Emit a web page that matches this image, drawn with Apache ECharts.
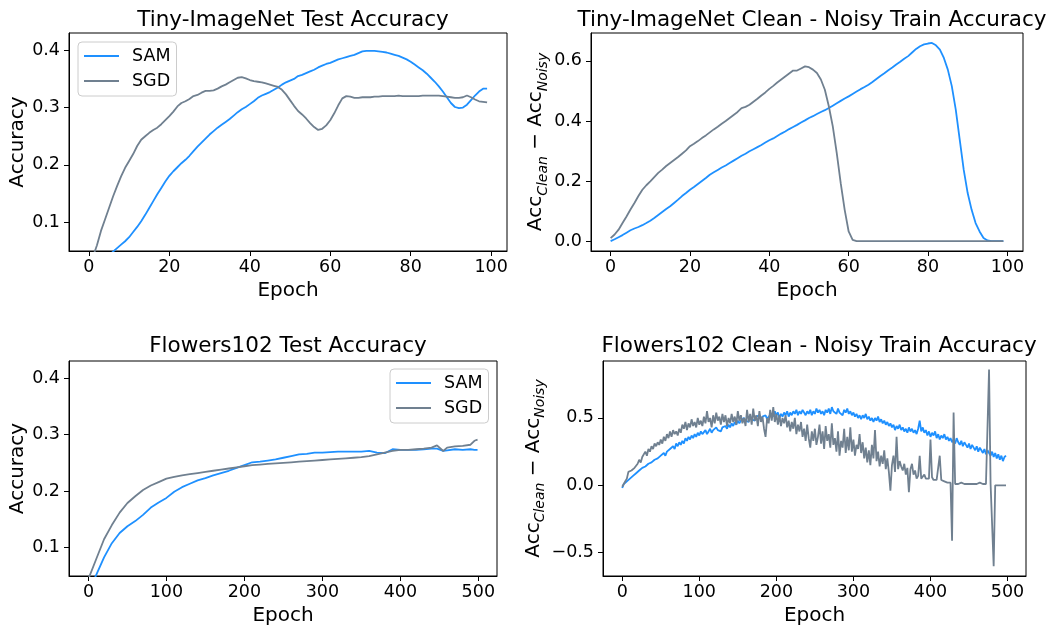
<!DOCTYPE html>
<html><head><meta charset="utf-8">
<script src="https://cdn.jsdelivr.net/npm/echarts@6/dist/echarts.min.js"></script>
<style>html,body{margin:0;padding:0;background:#fff}#c{width:1047px;height:627px}</style>
</head><body><div id="c"></div>
<script>
// ---------- data ----------
const tinyEpochs = Array.from({length: 100}, (_, i) => i);
const tinyTestSAM = [0.005,0.012,0.02,0.028,0.035,0.042,0.049,0.055,0.061,0.067,
0.074,0.083,0.092,0.102,0.113,0.125,0.137,0.149,0.160,0.171,
0.181,0.189,0.196,0.203,0.209,0.216,0.224,0.232,0.239,0.246,
0.253,0.259,0.265,0.27,0.275,0.28,0.286,0.292,0.297,0.301,
0.306,0.311,0.317,0.321,0.324,0.327,0.331,0.335,0.34,0.344,
0.347,0.35,0.355,0.357,0.36,0.363,0.366,0.37,0.373,0.376,
0.378,0.381,0.384,0.386,0.388,0.39,0.392,0.395,0.398,0.399,
0.399,0.399,0.398,0.397,0.396,0.394,0.392,0.39,0.387,0.384,
0.38,0.375,0.37,0.365,0.359,0.352,0.345,0.337,0.328,0.318,
0.308,0.301,0.299,0.3,0.305,0.313,0.321,0.328,0.333,0.333];
const tinyTestSGD = [0.02,0.04,0.06,0.085,0.105,0.125,0.145,0.163,0.18,0.195,
0.207,0.219,0.233,0.244,0.25,0.256,0.261,0.265,0.271,0.278,
0.285,0.293,0.302,0.308,0.311,0.315,0.32,0.322,0.326,0.329,
0.329,0.33,0.333,0.337,0.34,0.344,0.348,0.352,0.353,0.351,
0.348,0.346,0.345,0.344,0.342,0.34,0.338,0.336,0.331,0.323,
0.313,0.303,0.294,0.288,0.281,0.273,0.266,0.261,0.263,0.269,
0.278,0.29,0.304,0.316,0.32,0.319,0.317,0.317,0.318,0.318,
0.318,0.319,0.319,0.32,0.32,0.32,0.32,0.321,0.32,0.32,
0.32,0.32,0.32,0.321,0.321,0.321,0.321,0.321,0.32,0.319,
0.318,0.317,0.317,0.318,0.321,0.318,0.314,0.311,0.31,0.309];
const tinyGapSAM = [0.0,0.006,0.013,0.02,0.028,0.036,0.042,0.047,0.053,0.06,
0.068,0.077,0.087,0.097,0.107,0.116,0.127,0.138,0.15,0.16,
0.171,0.18,0.19,0.2,0.21,0.221,0.229,0.237,0.245,0.252,
0.26,0.268,0.276,0.284,0.291,0.299,0.306,0.313,0.32,0.328,
0.336,0.342,0.35,0.358,0.365,0.373,0.38,0.387,0.395,0.402,
0.41,0.416,0.423,0.43,0.436,0.443,0.451,0.459,0.467,0.475,
0.482,0.49,0.498,0.506,0.513,0.521,0.53,0.54,0.55,0.559,
0.569,0.578,0.588,0.597,0.607,0.616,0.628,0.64,0.649,0.655,
0.658,0.66,0.652,0.638,0.61,0.571,0.516,0.438,0.338,0.238,
0.16,0.104,0.06,0.032,0.01,0.002,0.0,0.0,0.0,0.0];
const tinyGapSGD = [0.01,0.022,0.038,0.06,0.082,0.105,0.127,0.15,0.171,0.186,
0.199,0.213,0.227,0.238,0.25,0.26,0.27,0.28,0.291,0.302,
0.316,0.324,0.333,0.343,0.352,0.362,0.372,0.381,0.391,0.4,
0.41,0.42,0.43,0.443,0.447,0.454,0.464,0.474,0.485,0.495,
0.507,0.517,0.528,0.538,0.548,0.558,0.568,0.568,0.575,0.582,
0.579,0.571,0.56,0.538,0.504,0.449,0.382,0.293,0.193,0.104,
0.032,0.004,0,0,0,0,0,0,0,0,
0,0,0,0,0,0,0,0,0,0,
0,0,0,0,0,0,0,0,0,0,
0,0,0,0,0,0,0,0,0,0];

const flowersTestEpochs = [0,10,20,30,40,50,60,70,80,90,100,110,120,130,140,150,160,170,180,190,
200,210,220,230,240,250,260,270,280,290,300,310,320,330,340,350,360,370,380,390,
400,410,420,430,440,447,455,460,470,480,490,495,499];
const flowersTestSAM = [0.02,0.052,0.083,0.108,0.126,0.138,0.147,0.158,0.171,0.18,0.188,0.199,0.207,0.213,0.219,0.223,0.228,0.232,0.236,0.241,
0.246,0.251,0.252,0.254,0.256,0.259,0.262,0.265,0.266,0.268,0.268,0.269,0.27,0.27,0.27,0.27,0.271,0.268,0.267,0.274,
0.273,0.273,0.273,0.274,0.275,0.275,0.271,0.272,0.274,0.273,0.274,0.273,0.273];
const flowersTestSGD = [0.045,0.08,0.115,0.14,0.162,0.179,0.191,0.202,0.21,0.216,0.222,0.225,0.228,0.23,0.232,0.234,0.236,0.238,0.24,0.242,
0.244,0.246,0.247,0.248,0.249,0.25,0.251,0.252,0.253,0.254,0.255,0.256,0.257,0.258,0.259,0.26,0.262,0.265,0.268,0.271,
0.273,0.273,0.274,0.275,0.277,0.281,0.271,0.277,0.279,0.28,0.282,0.289,0.291];

const flowersGapEpochs = Array.from({length: 250}, (_, i) => i * 2);
const flowersGapSAM = [-0.02,0.01,0.02,0.03,0.04,0.05,0.06,0.07,0.06,0.09,0.08,0.11,0.10,0.13,0.12,0.14,0.13,0.16,0.15,0.17,
0.16,0.19,0.18,0.20,0.19,0.22,0.21,0.24,0.22,0.25,0.24,0.27,0.26,0.29,0.27,0.31,0.29,0.32,0.30,0.33,
0.31,0.35,0.33,0.36,0.34,0.37,0.35,0.38,0.36,0.39,0.37,0.40,0.38,0.39,0.41,0.38,0.40,0.42,0.39,0.41,
0.40,0.43,0.41,0.42,0.40,0.43,0.42,0.44,0.42,0.45,0.43,0.46,0.44,0.47,0.45,0.48,0.46,0.48,0.47,0.50,
0.48,0.49,0.47,0.51,0.49,0.50,0.48,0.51,0.50,0.52,0.49,0.51,0.50,0.52,0.49,0.51,0.50,0.53,0.51,0.55,
0.52,0.54,0.50,0.53,0.51,0.54,0.52,0.55,0.51,0.54,0.52,0.55,0.53,0.56,0.52,0.55,0.53,0.56,0.54,0.52,
0.55,0.53,0.56,0.52,0.55,0.53,0.57,0.54,0.56,0.53,0.55,0.52,0.56,0.54,0.57,0.53,0.58,0.55,0.56,0.53,
0.57,0.54,0.55,0.52,0.56,0.54,0.57,0.53,0.55,0.52,0.54,0.51,0.53,0.50,0.52,0.49,0.52,0.50,0.53,0.49,
0.51,0.48,0.50,0.47,0.50,0.48,0.51,0.47,0.49,0.46,0.48,0.45,0.47,0.44,0.46,0.43,0.45,0.41,0.44,0.42,
0.45,0.41,0.43,0.40,0.42,0.39,0.43,0.40,0.42,0.39,0.41,0.38,0.42,0.48,0.40,0.43,0.39,0.41,0.37,0.40,
0.36,0.39,0.37,0.40,0.35,0.38,0.34,0.37,0.35,0.38,0.34,0.36,0.33,0.35,0.32,0.34,0.31,0.35,0.32,0.30,
0.33,0.29,0.32,0.30,0.28,0.31,0.27,0.30,0.28,0.26,0.29,0.25,0.28,0.26,0.24,0.27,0.23,0.26,0.24,0.22,
0.25,0.21,0.24,0.20,0.23,0.19,0.22,0.18,0.21,0.22];
const flowersGapSGD = [-0.01,0.01,0.03,0.05,0.10,0.09,0.11,0.10,0.13,0.12,0.16,0.19,0.17,0.21,0.20,0.25,0.22,0.27,0.25,0.29,
0.27,0.31,0.29,0.32,0.30,0.34,0.31,0.36,0.33,0.38,0.35,0.40,0.36,0.41,0.38,0.40,0.37,0.42,0.39,0.45,
0.42,0.47,0.41,0.46,0.43,0.49,0.44,0.47,0.43,0.50,0.45,0.48,0.44,0.51,0.46,0.55,0.47,0.50,0.43,0.52,
0.46,0.54,0.48,0.51,0.45,0.53,0.47,0.52,0.44,0.50,0.46,0.53,0.47,0.51,0.45,0.55,0.48,0.52,0.46,0.50,
0.44,0.56,0.47,0.53,0.45,0.57,0.48,0.52,0.44,0.55,0.47,0.51,0.42,0.36,0.50,0.46,0.56,0.48,0.58,0.47,
0.53,0.45,0.52,0.44,0.50,0.46,0.52,0.43,0.48,0.40,0.47,0.42,0.50,0.38,0.45,0.40,0.47,0.36,0.42,0.33,
0.45,0.35,0.28,0.40,0.33,0.42,0.30,0.36,0.45,0.31,0.40,0.27,0.44,0.33,0.38,0.28,0.46,0.30,0.35,0.25,
0.40,0.22,0.33,0.28,0.42,0.24,0.36,0.26,0.43,0.25,0.34,0.22,0.30,0.27,0.38,0.24,0.32,0.20,0.28,0.17,
0.26,0.15,0.30,0.20,0.41,0.18,0.25,0.14,0.22,0.16,0.26,0.12,0.20,0.10,-0.04,0.15,0.22,0.10,0.36,0.12,
0.18,0.14,0.11,0.16,0.08,0.13,-0.05,0.12,0.16,0.08,0.11,0.05,0.07,0.22,0.05,0.06,0.08,0.05,0.04,0.05,
0.34,0.06,0.04,0.05,0.04,0.05,0.22,0.04,0.03,0.03,0.04,0.02,0.03,0.02,-0.41,0.54,0.01,0.02,0.01,0.01,
0.02,0.01,0.01,0.02,0.01,0.01,0.01,0.02,0.01,0.01,0.01,0.01,0.02,0.01,0.01,0.01,0.01,0.01,0.86,0.01,
0.01,-0.60,0.0,0.0,0.0,0.0,0.0,0.0,0.0,0.0];

const tinyTicks = [0, 20, 40, 60, 80, 100];
const flowersTicks = [0, 100, 200, 300, 400, 500];
const accTicks = [0.1, 0.2, 0.3, 0.4];
const tinyGapTicks = [0.0, 0.2, 0.4, 0.6];
const flowersGapTicks = [-0.5, 0.0, 0.5];

// ---------- chart ----------
const F = 'DejaVu Sans';
const BLUE = '#1e90ff', GRAY = '#708090';
const TICK_FS = 17.5, LABEL_FS = 20, TITLE_FS = 21.5;
const fmt = v => (v < 0 ? '\u2212' : '') + Math.abs(v).toFixed(1);
const pairs = (xs, ys) => xs.map((x, i) => [x, ys[i]]);

const grids = [
  {left: 69, top: 33, width: 438, height: 218},
  {left: 591, top: 33, width: 432, height: 218},
  {left: 69, top: 361, width: 428, height: 217},
  {left: 603, top: 361, width: 423, height: 217}
].map(g => Object.assign(g, {show: true, borderColor: '#000', borderWidth: 1, backgroundColor: 'transparent', containLabel: false}));

function xAx(gi, min, max, ticks) {
  return {type: 'value', gridIndex: gi, min, max, name: 'Epoch', nameLocation: 'middle', nameGap: 30,
    nameTextStyle: {fontSize: LABEL_FS, color: '#000', fontFamily: F},
    axisLine: {show: true, onZero: false, lineStyle: {color: '#000', width: 1}},
    axisTick: {show: true, length: 5, inside: false, lineStyle: {color: '#000'}, customValues: ticks},
    axisLabel: {customValues: ticks, fontSize: TICK_FS, color: '#000', margin: 7, fontFamily: F},
    splitLine: {show: false}};
}
const richName = {
  a: {fontSize: LABEL_FS, color: '#000', fontFamily: F, lineHeight: 28, verticalAlign: 'middle'},
  s: {fontSize: 14, color: '#000', fontFamily: F, fontStyle: 'italic', lineHeight: 28, verticalAlign: 'bottom'}
};
function yAx(gi, min, max, ticks, name, gap) {
  return {type: 'value', gridIndex: gi, min, max, name, nameLocation: 'middle', nameGap: gap, nameRotate: 90,
    nameTextStyle: {fontSize: LABEL_FS, color: '#000', fontFamily: F, rich: richName},
    axisLine: {show: true, onZero: false, lineStyle: {color: '#000', width: 1}},
    axisTick: {show: true, length: 5, inside: false, lineStyle: {color: '#000'}, customValues: ticks},
    axisLabel: {customValues: ticks, fontSize: TICK_FS, color: '#000', margin: 9, fontFamily: F, formatter: fmt},
    splitLine: {show: false}};
}
const gapName = '{a|Acc}{s|Clean}{a| \u2212 Acc}{s|Noisy}';

function line(name, gi, data, color) {
  return {type: 'line', name, xAxisIndex: gi, yAxisIndex: gi, data, showSymbol: false, symbol: 'none',
    lineStyle: {color, width: 1.8}, itemStyle: {color}, clip: true, animation: false};
}

const titles = [
  ['Tiny-ImageNet Test Accuracy', 288, 4],
  ['Tiny-ImageNet Clean - Noisy Train Accuracy', 807, 4],
  ['Flowers102 Test Accuracy', 283, 330],
  ['Flowers102 Clean - Noisy Train Accuracy', 814, 330]
].map(([text, cx, top]) => ({text, left: cx, top, textAlign: 'center',
  textStyle: {fontSize: TITLE_FS, fontWeight: 'normal', color: '#000', fontFamily: F}}));

const legendBase = {orient: 'vertical', icon: 'rect', itemWidth: 35, itemHeight: 2, itemGap: 5,
  padding: [4, 6, 5, 6], backgroundColor: 'rgba(255,255,255,0.8)', borderColor: '#ccc', borderWidth: 1, borderRadius: 4,
  textStyle: {fontSize: TICK_FS, color: '#000', fontFamily: F, lineHeight: 20, padding: [0, 0, 0, 8]},
  data: ['SAM', 'SGD'], selectedMode: false};

const option = {
  backgroundColor: '#fff',
  animation: false,
  title: titles,
  legend: [Object.assign({left: 78, top: 42}, legendBase), Object.assign({left: 390, top: 369}, legendBase)],
  grid: grids,
  xAxis: [xAx(0, -4.95, 103.95, tinyTicks), xAx(1, -4.95, 103.95, tinyTicks),
          xAx(2, -24.95, 523.95, flowersTicks), xAx(3, -24.95, 523.95, flowersTicks)],
  yAxis: [yAx(0, 0.05, 0.43, accTicks, 'Accuracy', 41), yAx(1, -0.033, 0.693, tinyGapTicks, gapName, 40),
          yAx(2, 0.05, 0.43, accTicks, 'Accuracy', 41), yAx(3, -0.6725, 0.9225, flowersGapTicks, gapName, 54)],
  series: [
    line('SAM', 0, pairs(tinyEpochs, tinyTestSAM), BLUE),
    line('SGD', 0, pairs(tinyEpochs, tinyTestSGD), GRAY),
    line('SAM', 1, pairs(tinyEpochs, tinyGapSAM), BLUE),
    line('SGD', 1, pairs(tinyEpochs, tinyGapSGD), GRAY),
    line('SAM', 2, pairs(flowersTestEpochs, flowersTestSAM), BLUE),
    line('SGD', 2, pairs(flowersTestEpochs, flowersTestSGD), GRAY),
    line('SAM', 3, pairs(flowersGapEpochs, flowersGapSAM), BLUE),
    line('SGD', 3, pairs(flowersGapEpochs, flowersGapSGD), GRAY)
  ]
};
const chart = echarts.init(document.getElementById('c'), null, {renderer: 'canvas'});
chart.setOption(option);
</script></body></html>
